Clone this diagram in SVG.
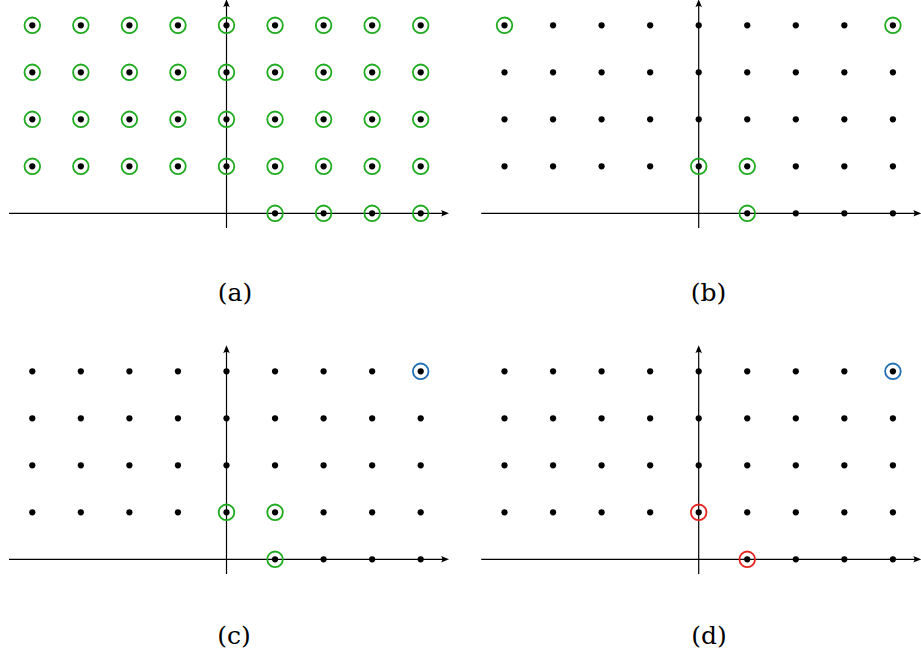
<svg xmlns="http://www.w3.org/2000/svg" xmlns:xlink="http://www.w3.org/1999/xlink" width="921" height="659" viewBox="0 0 921 659">
<style>
.ax{stroke:#000;stroke-width:1.2;fill:none}
.ah{fill:#000;stroke:none}
.dot{fill:#000}
.g{fill:none;stroke:#1faa1f;stroke-width:1.8}
.b{fill:none;stroke:#1f6eb4;stroke-width:1.8}
.r{fill:none;stroke:#e52420;stroke-width:1.8}
.lbl{fill:#000;text-anchor:middle}
</style>
<defs>
<circle id="d" r="3.1" class="dot"/>
<g id="axes">
<line class="ax" x1="-217.5" y1="0" x2="218" y2="0"/>
<path class="ah" d="M222.5,0 L214.5,-3.3 Q217.2,0 214.5,3.3 Z"/>
<line class="ax" x1="0" y1="14.7" x2="0" y2="-209.5"/>
<path class="ah" d="M0,-214 L-3.3,-206 Q0,-208.7 3.3,-206 Z"/>
</g>
<g id="grid">
<use xlink:href="#d" x="-194.2" y="-188"/><use xlink:href="#d" x="-145.65" y="-188"/><use xlink:href="#d" x="-97.1" y="-188"/><use xlink:href="#d" x="-48.55" y="-188"/><use xlink:href="#d" x="0" y="-188"/><use xlink:href="#d" x="48.55" y="-188"/><use xlink:href="#d" x="97.1" y="-188"/><use xlink:href="#d" x="145.65" y="-188"/><use xlink:href="#d" x="194.2" y="-188"/>
<use xlink:href="#d" x="-194.2" y="-141"/><use xlink:href="#d" x="-145.65" y="-141"/><use xlink:href="#d" x="-97.1" y="-141"/><use xlink:href="#d" x="-48.55" y="-141"/><use xlink:href="#d" x="0" y="-141"/><use xlink:href="#d" x="48.55" y="-141"/><use xlink:href="#d" x="97.1" y="-141"/><use xlink:href="#d" x="145.65" y="-141"/><use xlink:href="#d" x="194.2" y="-141"/>
<use xlink:href="#d" x="-194.2" y="-94"/><use xlink:href="#d" x="-145.65" y="-94"/><use xlink:href="#d" x="-97.1" y="-94"/><use xlink:href="#d" x="-48.55" y="-94"/><use xlink:href="#d" x="0" y="-94"/><use xlink:href="#d" x="48.55" y="-94"/><use xlink:href="#d" x="97.1" y="-94"/><use xlink:href="#d" x="145.65" y="-94"/><use xlink:href="#d" x="194.2" y="-94"/>
<use xlink:href="#d" x="-194.2" y="-47"/><use xlink:href="#d" x="-145.65" y="-47"/><use xlink:href="#d" x="-97.1" y="-47"/><use xlink:href="#d" x="-48.55" y="-47"/><use xlink:href="#d" x="0" y="-47"/><use xlink:href="#d" x="48.55" y="-47"/><use xlink:href="#d" x="97.1" y="-47"/><use xlink:href="#d" x="145.65" y="-47"/><use xlink:href="#d" x="194.2" y="-47"/>
<use xlink:href="#d" x="48.55" y="0"/><use xlink:href="#d" x="97.1" y="0"/><use xlink:href="#d" x="145.65" y="0"/><use xlink:href="#d" x="194.2" y="0"/>
</g>
</defs>
<g id="connectors">
<use xlink:href="#axes" transform="translate(226.5,213.3)"/>
<use xlink:href="#axes" transform="translate(698.7,213.3)"/>
<use xlink:href="#axes" transform="translate(226.5,559.3)"/>
<use xlink:href="#axes" transform="translate(698.7,559.3)"/>
</g>
<g id="panel-a" transform="translate(226.5,213.3)">
<use xlink:href="#grid"/>
<g class="g">
<circle r="7.8" cx="-194.2" cy="-188"/><circle r="7.8" cx="-145.65" cy="-188"/><circle r="7.8" cx="-97.1" cy="-188"/><circle r="7.8" cx="-48.55" cy="-188"/><circle r="7.8" cx="0" cy="-188"/><circle r="7.8" cx="48.55" cy="-188"/><circle r="7.8" cx="97.1" cy="-188"/><circle r="7.8" cx="145.65" cy="-188"/><circle r="7.8" cx="194.2" cy="-188"/>
<circle r="7.8" cx="-194.2" cy="-141"/><circle r="7.8" cx="-145.65" cy="-141"/><circle r="7.8" cx="-97.1" cy="-141"/><circle r="7.8" cx="-48.55" cy="-141"/><circle r="7.8" cx="0" cy="-141"/><circle r="7.8" cx="48.55" cy="-141"/><circle r="7.8" cx="97.1" cy="-141"/><circle r="7.8" cx="145.65" cy="-141"/><circle r="7.8" cx="194.2" cy="-141"/>
<circle r="7.8" cx="-194.2" cy="-94"/><circle r="7.8" cx="-145.65" cy="-94"/><circle r="7.8" cx="-97.1" cy="-94"/><circle r="7.8" cx="-48.55" cy="-94"/><circle r="7.8" cx="0" cy="-94"/><circle r="7.8" cx="48.55" cy="-94"/><circle r="7.8" cx="97.1" cy="-94"/><circle r="7.8" cx="145.65" cy="-94"/><circle r="7.8" cx="194.2" cy="-94"/>
<circle r="7.8" cx="-194.2" cy="-47"/><circle r="7.8" cx="-145.65" cy="-47"/><circle r="7.8" cx="-97.1" cy="-47"/><circle r="7.8" cx="-48.55" cy="-47"/><circle r="7.8" cx="0" cy="-47"/><circle r="7.8" cx="48.55" cy="-47"/><circle r="7.8" cx="97.1" cy="-47"/><circle r="7.8" cx="145.65" cy="-47"/><circle r="7.8" cx="194.2" cy="-47"/>
<circle r="7.8" cx="48.55" cy="0"/><circle r="7.8" cx="97.1" cy="0"/><circle r="7.8" cx="145.65" cy="0"/><circle r="7.8" cx="194.2" cy="0"/>
</g>
</g>
<g id="panel-b" transform="translate(698.7,213.3)">
<use xlink:href="#grid"/>
<g class="g">
<circle r="7.8" cx="-194.2" cy="-188"/><circle r="7.8" cx="194.2" cy="-188"/>
<circle r="7.8" cx="0" cy="-47"/><circle r="7.8" cx="48.55" cy="-47"/>
<circle r="7.8" cx="48.55" cy="0"/>
</g>
</g>
<g id="panel-c" transform="translate(226.5,559.3)">
<use xlink:href="#grid"/>
<circle class="b" r="7.8" cx="194.2" cy="-188"/>
<g class="g">
<circle r="7.8" cx="0" cy="-47"/><circle r="7.8" cx="48.55" cy="-47"/>
<circle r="7.8" cx="48.55" cy="0"/>
</g>
</g>
<g id="panel-d" transform="translate(698.7,559.3)">
<use xlink:href="#grid"/>
<circle class="b" r="7.8" cx="194.2" cy="-188"/>
<g class="r">
<circle r="7.8" cx="0" cy="-47"/>
<circle r="7.8" cx="48.55" cy="0"/>
</g>
</g>
<g id="labels" font-family="'DejaVu Serif', 'Liberation Serif', serif" font-size="25">
<text class="lbl" x="235" y="301">(a)</text>
<text class="lbl" x="708.5" y="301">(b)</text>
<text class="lbl" x="234" y="644">(c)</text>
<text class="lbl" x="709" y="644">(d)</text>
</g>
</svg>
